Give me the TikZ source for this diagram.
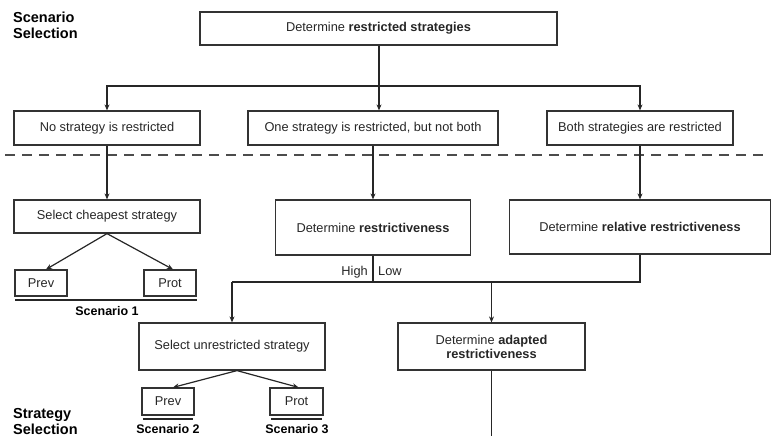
\documentclass[tikz,border=0pt]{standalone}
\usepackage{fontspec}
\setmainfont{Liberation Sans}
\usetikzlibrary{arrows.meta,calc}
\begin{document}
\begin{tikzpicture}[x=1pt,y=-1pt,
  box/.style={draw=black!80,line width=1.2pt,inner sep=0pt,font=\fontsize{12.8}{14}\selectfont,text=black!85,align=center},
  arr/.style={draw=black!85,line width=1.2pt,-{Stealth[length=6pt,width=5pt]}},
  ln/.style={draw=black!85,line width=1.2pt},
  ttl/.style={font=\fontsize{14.5}{16}\selectfont\bfseries,anchor=base west,inner sep=0pt},
  scn/.style={font=\fontsize{12.5}{14}\selectfont\bfseries,anchor=base,inner sep=0pt},
  lbl/.style={font=\fontsize{12.8}{14}\selectfont,text=black!85,inner sep=0pt},
  uline/.style={draw=black!85,line width=2pt}]
\useasboundingbox (0,0) rectangle (773,436);

% titles
\node[ttl] (t1a) at (13,23) {Scenario};
\node[ttl] (t1b) at (13,39) {Selection};
\node[ttl] (t2a) at (13,418) {Strategy};
\node[ttl] (t2b) at (13,434) {Selection};

% boxes
\node[box,minimum width=357,minimum height=33] (top) at (378.5,28.5) {Determine \textbf{restricted strategies}};
\node[box,minimum width=186,minimum height=34] (no) at (107,128) {No strategy is restricted};
\node[box,minimum width=250,minimum height=34] (one) at (373,128) {One strategy is restricted, but not both};
\node[box,minimum width=186,minimum height=34] (both) at (640,128) {Both strategies are restricted};
\node[box,minimum width=186,minimum height=33] (cheap) at (107,216.5) {Select cheapest strategy};
\node[box,minimum width=195,minimum height=55] (restr) at (373,227.5) {Determine \textbf{restrictiveness}};
\node[box,minimum width=261,minimum height=54] (rel) at (640,227) {Determine \textbf{relative restrictiveness}};
\node[box,minimum width=52,minimum height=26] (prev1) at (41,283) {Prev};
\node[box,minimum width=52,minimum height=26] (prot1) at (170,283) {Prot};
\node[box,minimum width=186,minimum height=47] (unres) at (232,346.5) {Select unrestricted strategy};
\node[box,minimum width=187,minimum height=47] (adapt) at (491.5,346.5) {Determine \textbf{adapted}\\\textbf{restrictiveness}};
\node[box,minimum width=52,minimum height=27] (prev2) at (168,401.5) {Prev};
\node[box,minimum width=53,minimum height=27] (prot2) at (296.5,401.5) {Prot};

% dashed separator
\coordinate (dl) at (5,155);
\coordinate (dr) at (770,155);
\draw[black!70,line width=1.5pt,dash pattern=on 10pt off 7pt] (dl) -- (dr);

% top split
\coordinate (split) at (379,86);
\draw[ln] (top.south -| split) -- (split);
\draw[arr] (split) -- (split |- one.north);
\draw[arr] (split) -| (no.north);
\draw[arr] (split) -| (both.north);

% second row down
\draw[arr] (no.south) -- (cheap.north);
\draw[arr] (one.south) -- (restr.north);
\draw[arr] (both.south) -- (rel.north);

% cheapest branches
\draw[arr] (cheap.south) -- ($(prev1.north)+(5,0)$);
\draw[arr] (cheap.south) -- ($(prot1.north)+(3,0)$);

% scenario 1
\coordinate (u1a) at (15,300);
\coordinate (u1b) at (197,300);
\draw[uline] (u1a) -- (u1b);
\node[scn] (s1) at (107,315) {Scenario 1};

% junction
\coordinate (j) at (0,282);
\draw[ln] (restr.south) -- (restr.south |- j);
\draw[ln] (rel.south) -- (rel.south |- j) -- (unres.north |- j);
\draw[arr] (unres.north |- j) -- (unres.north);
\draw[arr] (adapt.north |- j) -- (adapt.north);
\node[lbl,anchor=base east] (high) at (368,275) {High};
\node[lbl,anchor=base west] (low) at (378,275) {Low};

% unrestricted branches
\draw[arr] ($(unres.south)+(5,0)$) -- ($(prev2.north)+(5,0)$);
\draw[arr] ($(unres.south)+(5,0)$) -- ($(prot2.north)+(2,0)$);

% scenarios 2 and 3
\coordinate (u2a) at (143,419);
\coordinate (u2b) at (193,419);
\coordinate (u3a) at (271,419);
\coordinate (u3b) at (322,419);
\draw[uline] (u2a) -- (u2b);
\draw[uline] (u3a) -- (u3b);
\node[scn] (s2) at (168,433) {Scenario 2};
\node[scn] (s3) at (297,433) {Scenario 3};

% adapted down
\coordinate (bot) at (491.5,436);
\draw[ln] (adapt.south) -- (bot);
\end{tikzpicture}
\end{document}
